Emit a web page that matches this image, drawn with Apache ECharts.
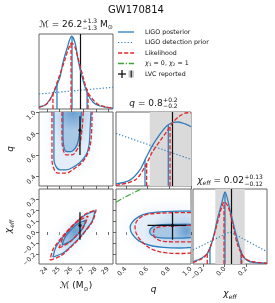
<!DOCTYPE html>
<html><head><meta charset="utf-8">
<script src="https://cdn.jsdelivr.net/npm/echarts@6/dist/echarts.min.js"></script>
<style>html,body{margin:0;padding:0;background:#fff}#c{width:275px;height:303px}</style>
</head><body><div id="c"></div>
<script>
// ================= DATA =================
const mcTicks = [24, 25, 26, 27, 28, 29];
const qTicks = [0.4, 0.6, 0.8, 1.0];
const chiTicks = [-0.2, -0.1, 0.0, 0.1, 0.2, 0.3];
const chiXTicks = [-0.2, 0.0, 0.2];
const mcRange = [23.35, 29.4];
const qRange = [0.31, 1.0];
const chiRange = [-0.29, 0.39];

// 1D marginals (value, relative density)
const mcPost = [[23.35,0.03],[23.84,0.05],[24.25,0.13],[24.66,0.26],[25.07,0.43],[25.31,0.62],[25.61,0.79],[26.02,0.97],[26.3,0.88],[26.54,0.66],[26.87,0.43],[27.28,0.22],[27.77,0.09],[28.34,0.04],[29.4,0.01]];
const mcLike = [[23.35,0.02],[24.0,0.07],[24.49,0.2],[24.9,0.39],[25.48,0.66],[25.75,0.8],[26.02,0.88],[26.3,0.82],[26.54,0.68],[26.95,0.43],[27.36,0.22],[28.1,0.07],[28.75,0.03],[29.4,0.01]];
const mcPrior = [[23.35,0.2],[29.4,0.29]];
const mcPostQ = [24.82, 26.05, 27.28];
const mcLikeQ = [24.49, 25.97, 27.36];

const qPost = [[0.31,0.03],[0.439,0.08],[0.531,0.22],[0.592,0.4],[0.65,0.56],[0.715,0.7],[0.776,0.81],[0.834,0.86],[0.88,0.865],[0.945,0.84],[1.0,0.8]];
const qLike = [[0.31,0.01],[0.485,0.08],[0.577,0.26],[0.641,0.45],[0.715,0.61],[0.779,0.74],[0.834,0.86],[0.899,0.95],[0.963,0.99],[1.0,0.99]];
const qPrior = [[0.31,0.71],[1.0,0.36]];
const qPostQ = [0.577, 0.791];
const qLikeQ = [0.592, 0.807];

const chiPost = [[-0.29,0.03],[-0.21,0.08],[-0.149,0.16],[-0.103,0.36],[-0.067,0.59],[-0.026,0.81],[0.004,0.96],[0.05,0.72],[0.087,0.5],[0.126,0.28],[0.172,0.1],[0.234,0.03],[0.39,0.01]];
const chiLike = [[-0.29,0.02],[-0.18,0.1],[-0.118,0.28],[-0.067,0.54],[-0.026,0.76],[-0.002,0.83],[0.034,0.76],[0.08,0.5],[0.126,0.23],[0.188,0.076],[0.264,0.03],[0.39,0.01]];
const chiPrior = [[-0.29,0.187],[0.05,0.43],[0.39,0.164]];
const chiPostQ = [-0.134, 0.004, 0.151];
const chiLikeQ = [-0.159, -0.005, 0.158];

// LVC reported values [lower, central, upper]
const lvcMc = [26.7, 26.7, 26.7];
const lvcQ = [0.6, 0.83, 0.96];
const lvcChi = [-0.07, 0.06, 0.18];
const lvcQBand = [0.62, 1.0];
const lvcChiBand = [-0.085, 0.185];

// 2D contours: Mc vs q
const mcqOuterPost = [[24.57,1.0],[24.57,0.75],[24.57,0.56],[24.74,0.49],[25.07,0.46],[25.56,0.46],[26.05,0.48],[26.7,0.53],[27.2,0.6],[27.44,0.69],[27.52,0.82],[27.6,1.0]];
const mcqOuterLike = [[24.41,1.0],[24.41,0.56],[24.57,0.47],[24.9,0.43],[25.56,0.43],[26.21,0.47],[26.87,0.53],[27.36,0.62],[27.61,0.75],[27.69,1.0]];
const mcqInnerPost = [[25.31,1.0],[25.31,0.8],[25.39,0.67],[25.64,0.63],[25.97,0.63],[26.3,0.66],[26.54,0.72],[26.7,0.84],[26.82,1.0]];
const mcqInnerLike = [[25.23,1.0],[25.23,0.75],[25.31,0.66],[25.56,0.6],[26.05,0.6],[26.46,0.65],[26.7,0.71],[26.87,0.84],[26.97,1.0]];

// Mc vs chi_eff
const mcchiOuterPost = [[24.49,-0.227],[25.29,-0.193],[25.89,-0.138],[26.61,-0.058],[27.26,0.029],[27.7,0.1],[27.93,0.191],[27.14,0.156],[26.54,0.102],[25.82,0.022],[25.16,-0.065],[24.73,-0.136]];
const mcchiOuterLike = [[24.25,-0.255],[25.11,-0.217],[25.76,-0.157],[26.56,-0.07],[27.27,0.025],[27.75,0.101],[28.02,0.2],[27.15,0.163],[26.5,0.103],[25.7,0.015],[24.99,-0.079],[24.51,-0.155]];
const mcchiInnerPost = [[25.23,-0.118],[25.93,-0.083],[26.45,-0.03],[26.91,0.03],[27.2,0.109],[26.5,0.074],[25.98,0.021],[25.52,-0.04]];
const mcchiInnerLike = [[24.98,-0.145],[25.81,-0.096],[26.44,-0.027],[27.0,0.049],[27.36,0.145],[26.53,0.096],[25.9,0.027],[25.34,-0.049]];

// q vs chi_eff
const qchiOuterPost = [[1.0,0.19],[0.9,0.19],[0.75,0.185],[0.6,0.17],[0.52,0.14],[0.46,0.09],[0.44,0.04],[0.46,-0.02],[0.52,-0.08],[0.62,-0.12],[0.75,-0.14],[0.9,-0.145],[1.0,-0.14]];
const qchiOuterLike = [[1.0,0.175],[0.85,0.175],[0.7,0.17],[0.58,0.155],[0.51,0.11],[0.485,0.05],[0.5,-0.02],[0.56,-0.1],[0.65,-0.16],[0.78,-0.19],[0.92,-0.195],[1.0,-0.19]];
const qchiInnerPost = [[1.0,0.07],[0.8,0.07],[0.68,0.06],[0.63,0.03],[0.62,0.0],[0.64,-0.03],[0.7,-0.05],[0.85,-0.055],[1.0,-0.05]];
const qchiInnerLike = [[1.0,0.06],[0.8,0.055],[0.7,0.045],[0.66,0.02],[0.655,-0.02],[0.68,-0.06],[0.75,-0.085],[0.9,-0.09],[1.0,-0.09]];
const qchiSpinLine = [[0.31,0.27],[0.4,0.32],[0.5,0.37],[0.54,0.39]];

// ================= STYLE =================
const BLUE = '#2f7ebc', RED = '#e3262b', GREEN = '#3aa63a';
const FONT = 'DejaVu Sans';
const LW = 1.3;
const DASH = [4.2, 1.9], DOT = [1.2, 2.0], DASHDOT = [6, 1.8, 1.2, 1.8];

const grids = [
  {left:39, top:34, width:74, height:75},   // Mc 1D
  {left:39, top:112, width:74, height:74},  // Mc-q
  {left:116, top:112, width:75, height:74}, // q 1D
  {left:39, top:189, width:74, height:75},  // Mc-chi
  {left:116, top:189, width:75, height:75}, // q-chi
  {left:193, top:189, width:74, height:75}  // chi 1D
].map(g => Object.assign({show:true, borderColor:'#555', borderWidth:0.9, backgroundColor:'transparent'}, g));

const minus = v => (v < 0 ? '\u2212' : '') + Math.abs(v).toFixed(1);
function axis(gi, range, ticks, labels, fmt, margin, extra) {
  return Object.assign({
    type:'value', gridIndex:gi, min:range[0], max:range[1],
    axisLine:{show:false}, splitLine:{show:false},
    axisTick: ticks ? {show:true, inside:false, length:3, customValues:ticks, lineStyle:{color:'#444', width:0.8}} : {show:false},
    axisLabel: labels ? {show:true, customValues:ticks, rotate:45, fontSize:6.3, fontFamily:FONT, color:'#222', margin:margin, formatter:fmt} : {show:false}
  }, extra || {});
}
const fmtInt = v => String(Math.round(v));
const nameStyle = {fontFamily:FONT, color:'#111', fontSize:9,
  rich:{a:{fontSize:9, fontFamily:FONT, lineHeight:12}, i:{fontSize:9, fontFamily:FONT, fontStyle:'italic', lineHeight:12}, s:{fontSize:6, fontFamily:FONT, fontStyle:'italic', lineHeight:6, verticalAlign:'bottom'}, u:{fontSize:6, fontFamily:FONT, lineHeight:6, verticalAlign:'bottom'}}};

const xAxes = [
  axis(0, mcRange, mcTicks, false),
  axis(1, mcRange, mcTicks, false),
  axis(2, qRange, qTicks, false),
  axis(3, mcRange, mcTicks, true, fmtInt, 4, {name:'{i|\u2133} {a|(M}{u|\u2299}{a|)}', nameLocation:'middle', nameGap:16, nameTextStyle:nameStyle}),
  axis(4, qRange, qTicks, true, minus, 4, {name:'{i|q}', nameLocation:'middle', nameGap:20, nameTextStyle:nameStyle}),
  axis(5, chiRange, chiXTicks, true, minus, 4, {name:'{i|\u03c7}{s|eff}', nameLocation:'middle', nameGap:24, nameTextStyle:nameStyle})
];
const yAxes = [
  axis(0, [0,1], null, false),
  axis(1, qRange, qTicks, true, minus, 4, {name:'{i|q}', nameLocation:'middle', nameGap:22, nameTextStyle:nameStyle}),
  axis(2, [0,1], null, false),
  axis(3, chiRange, chiTicks, true, minus, 4, {name:'{i|\u03c7}{s|eff}', nameLocation:'middle', nameGap:24, nameTextStyle:nameStyle}),
  axis(4, chiRange, chiTicks, false),
  axis(5, [0,1], null, false)
];

const series = [];
function line(gi, data, color, type, width, z, smooth) {
  series.push({type:'line', xAxisIndex:gi, yAxisIndex:gi, data:data, symbol:'none', smooth:smooth===undefined?0.3:smooth,
    lineStyle:{color:color, width:width||LW, type:type||'solid'}, silent:true, z:z||5, clip:true});
}
function interp(curve, x) {
  for (let i = 0; i < curve.length - 1; i++) {
    const a = curve[i], b = curve[i+1];
    if (x >= a[0] && x <= b[0]) return a[1] + (b[1]-a[1]) * (x-a[0]) / (b[0]-a[0]);
  }
  return 0;
}
function marginal(gi, post, like, prior, postQ, likeQ, lvc, band) {
  if (band) {
    series.push({type:'line', xAxisIndex:gi, yAxisIndex:gi, data:[], symbol:'none', silent:true, z:1,
      markArea:{silent:true, itemStyle:{color:'#dadada'}, data:[[{xAxis:band[0]},{xAxis:band[1]}]]}});
  }
  line(gi, prior, BLUE, DOT, 1.2, 4, 0);
  line(gi, post, BLUE, 'solid', LW, 6);
  line(gi, like, RED, DASH, LW, 7);
  postQ.forEach(q => line(gi, [[q,0],[q,interp(post,q)]], BLUE, 'solid', LW, 6, 0));
  likeQ.forEach(q => line(gi, [[q,0],[q,interp(like,q)]], RED, DASH, LW, 7, 0));
  series.push({type:'line', xAxisIndex:gi, yAxisIndex:gi, data:[], symbol:'none', silent:true, z:8,
    markLine:{silent:true, symbol:'none', label:{show:false}, lineStyle:{color:'#111', width:1.2, type:'solid'}, data:[{xAxis:lvc}]}});
}
function fillPoly(gi, poly, stops, gx, gy, gr, blur, z) {
  series.push({type:'custom', xAxisIndex:gi, yAxisIndex:gi, data:[0], clip:true, silent:true, z:z,
    renderItem:(params, api) => ({type:'polygon', shape:{points:poly.map(p => api.coord(p)), smooth:0.3},
      style:{fill:new echarts.graphic.RadialGradient(gx, gy, gr, stops), shadowBlur:blur, shadowColor:stops[stops.length-1].color}})});
}
function contour(gi, poly, closed, color, type) {
  const d = closed ? poly.concat([poly[0]]) : poly;
  line(gi, d, color, type, LW, type === 'solid' ? 6 : 7, 0.35);
}
function panel2D(gi, oP, oL, iP, iL, closed, g) {
  fillPoly(gi, oP, [{offset:0,color:'#bcd5ec'},{offset:1,color:'#e4eef8'}], g[0], g[1], g[2], 16, 1);
  fillPoly(gi, iP, [{offset:0,color:'#6a9fd0'},{offset:1,color:'#a9c8e6'}], g[0], g[1], g[2], 6, 2);
  contour(gi, oP, closed, BLUE, 'solid');
  contour(gi, iP, closed, BLUE, 'solid');
  contour(gi, oL, closed, RED, DASH);
  contour(gi, iL, closed, RED, DASH);
}
function cross(gi, xs, ys) {
  line(gi, [[xs[1], ys[0]], [xs[1], ys[2]]], '#111', 'solid', 1.3, 9, 0);
  if (xs[0] !== xs[2]) line(gi, [[xs[0], ys[1]], [xs[2], ys[1]]], '#111', 'solid', 1.3, 9, 0);
  series.push({type:'scatter', xAxisIndex:gi, yAxisIndex:gi, data:[[xs[1], ys[1]]], symbolSize:3.5, itemStyle:{color:'#111'}, silent:true, z:10});
}

marginal(0, mcPost, mcLike, mcPrior, mcPostQ, mcLikeQ, lvcMc[1], null);
marginal(2, qPost, qLike, qPrior, qPostQ, qLikeQ, lvcQ[1], lvcQBand);
marginal(5, chiPost, chiLike, chiPrior, chiPostQ, chiLikeQ, lvcChi[1], lvcChiBand);

panel2D(1, mcqOuterPost, mcqOuterLike, mcqInnerPost, mcqInnerLike, false, [0.55, 0.05, 0.9]);
panel2D(3, mcchiOuterPost, mcchiOuterLike, mcchiInnerPost, mcchiInnerLike, true, [0.55, 0.45, 0.6]);
panel2D(4, qchiOuterPost, qchiOuterLike, qchiInnerPost, qchiInnerLike, false, [0.85, 0.5, 0.8]);
line(4, qchiSpinLine, GREEN, DASHDOT, 1.2, 8, 0.2);

cross(1, lvcMc, lvcQ);
cross(3, lvcMc, lvcChi);
cross(4, lvcQ, lvcChi);

// ================= TEXT (titles, legend) =================
const mctx = document.createElement('canvas').getContext('2d');
function tw(t, s, it) { mctx.font = (it ? 'italic ' : '') + s + 'px "' + FONT + '"'; return mctx.measureText(t).width; }
function txt(x, y, t, s, it, extra) {
  return Object.assign({type:'text', x:x, y:y, silent:true,
    style:Object.assign({text:t, fontSize:s, fontFamily:FONT, fontStyle:it?'italic':'normal', fill:'#111', align:'left', verticalAlign:'middle'}, extra||{})});
}
function mathText(cx, cy, parts, base) {
  let w = 0; const items = [];
  parts.forEach(p => {
    let ww;
    if (p.sup) { const s = p.size || 6; ww = Math.max(tw(p.sup, s), tw(p.sub, s)) + 0.5; }
    else ww = tw(p.t, p.size || base, p.it);
    items.push({p:p, x:w}); w += ww;
  });
  const x0 = cx - w / 2; const els = [];
  items.forEach(({p, x}) => {
    if (p.sup) { els.push(txt(x0 + x + 0.5, cy - 3.3, p.sup, p.size || 6)); els.push(txt(x0 + x + 0.5, cy + 3.3, p.sub, p.size || 6)); }
    else els.push(txt(x0 + x, cy + (p.dy || 0), p.t, p.size || base, p.it));
  });
  return els;
}
const titleMc = [{t:'\u2133', it:true}, {t:' = 26.2'}, {sup:'+1.3', sub:'\u22121.3'}, {t:' M'}, {t:'\u2299', size:6, dy:2}];
const titleQ = [{t:'q', it:true}, {t:' = 0.8'}, {sup:'+0.2', sub:'\u22120.2'}];
const titleChi = [{t:'\u03c7', it:true}, {t:'eff', size:6, it:true, dy:2}, {t:' = 0.02'}, {sup:'+0.13', sub:'\u22120.12'}];

const graphics = [];
graphics.push(txt(136, 10.5, 'GW170814', 10, false, {align:'center'}));
graphics.push(...mathText(76, 25, titleMc, 9));
graphics.push(...mathText(153.5, 103.5, titleQ, 9));
graphics.push(...mathText(230, 181, titleChi, 9));

// legend
const legY = [32, 42.5, 53, 63.5, 74];
const legItems = [
  {label:'LIGO posterior', color:BLUE, dash:null},
  {label:'LIGO detection prior', color:BLUE, dash:DOT},
  {label:'Likelihood', color:RED, dash:DASH},
  {label:'chi', color:GREEN, dash:DASHDOT}
];
legItems.forEach((it, i) => {
  graphics.push({type:'line', silent:true, shape:{x1:118, y1:legY[i], x2:134, y2:legY[i]},
    style:{stroke:it.color, lineWidth:i===1?1.2:LW, lineDash:it.dash}});
  if (it.label === 'chi') {
    graphics.push({type:'text', x:145, y:legY[i], silent:true, style:{
      text:'{i|\u03c7}{s|1}{n| = 0, }{i|\u03c7}{s|2}{n| = 1}', fill:'#111', align:'left', verticalAlign:'middle',
      rich:{i:{fontSize:6.3, fontFamily:FONT, fontStyle:'italic', lineHeight:8}, n:{fontSize:6.3, fontFamily:FONT, lineHeight:8}, s:{fontSize:4.5, fontFamily:FONT, lineHeight:5, verticalAlign:'bottom'}}}});
  } else {
    graphics.push(txt(145, legY[i], it.label, 6.3));
  }
});
graphics.push({type:'line', silent:true, shape:{x1:118, y1:legY[4], x2:126, y2:legY[4]}, style:{stroke:'#111', lineWidth:1.3}});
graphics.push({type:'line', silent:true, shape:{x1:122, y1:legY[4]-4, x2:122, y2:legY[4]+4}, style:{stroke:'#111', lineWidth:1.3}});
graphics.push({type:'rect', silent:true, shape:{x:128.5, y:legY[4]-3.5, width:5.5, height:7}, style:{fill:'#c8c8c8'}});
graphics.push({type:'line', silent:true, shape:{x1:131.2, y1:legY[4]-3.5, x2:131.2, y2:legY[4]+3.5}, style:{stroke:'#111', lineWidth:1.1}});
graphics.push(txt(145, legY[4], 'LVC reported', 6.3));

const chart = echarts.init(document.getElementById('c'), null, {renderer:'canvas'});
chart.setOption({animation:false, backgroundColor:'#fff', grid:grids, xAxis:xAxes, yAxis:yAxes, series:series, graphic:graphics});
</script></body></html>
